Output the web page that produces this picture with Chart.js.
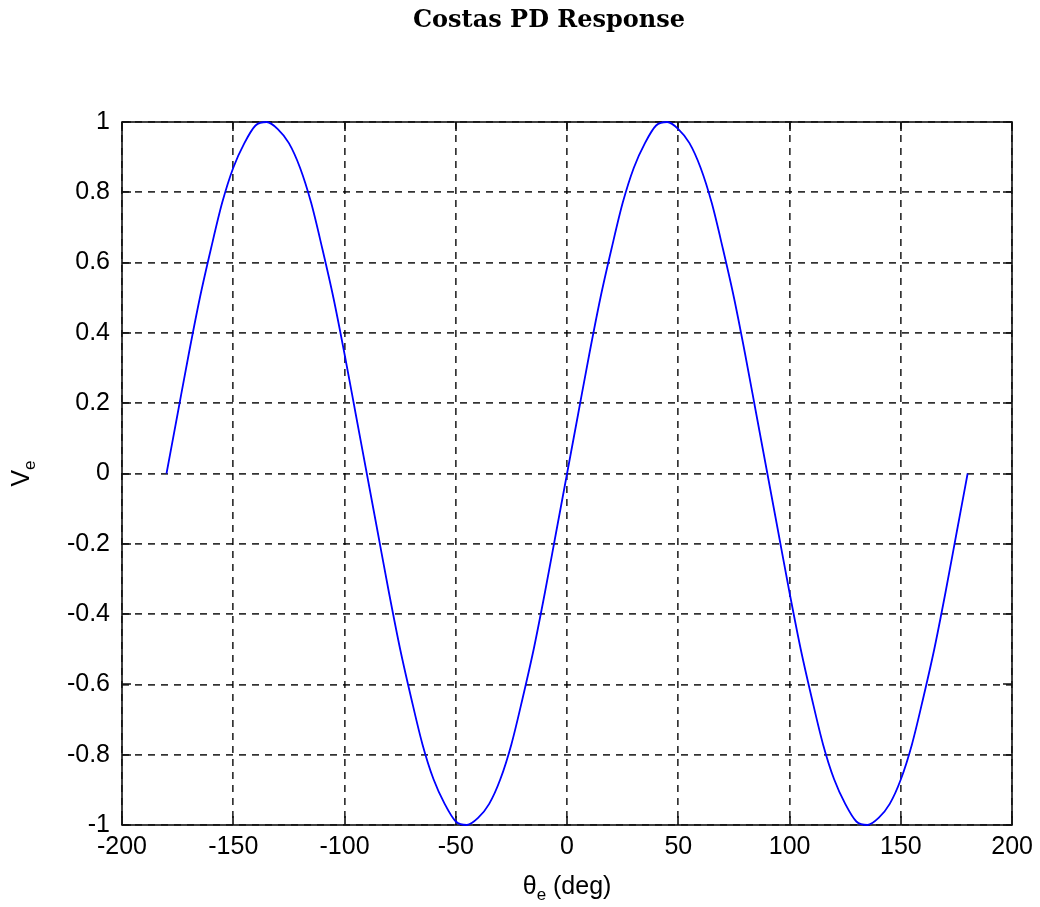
<!DOCTYPE html>
<html><head><meta charset="utf-8">
<script src="https://cdn.jsdelivr.net/npm/chart.js@4/dist/chart.umd.min.js"></script>
<style>html,body{margin:0;padding:0;background:#fff}#wrap{width:1040px;height:907px}</style>
</head><body><div id="wrap"><canvas id="c" width="1040" height="907"></canvas></div>
<script>
const angles = [-180,-175,-170,-165,-160,-155,-150,-145,-140,-135,-130,-125,-120,-115,-110,-105,-100,-95,
  -90,-85,-80,-75,-70,-65,-60,-55,-50,-45,-40,-35,-30,-25,-20,-15,-10,-5,
  0,5,10,15,20,25,30,35,40,45,50,55,60,65,70,75,80,85,
  90,95,100,105,110,115,120,125,130,135,140,145,150,155,160,165,170,175,180];
const ve = [0.00,0.17,0.34,0.50,0.64,0.77,0.87,0.94,0.99,1.00,0.98,0.94,0.87,0.77,0.64,0.50,0.34,0.17,
  0.00,-0.17,-0.34,-0.50,-0.64,-0.77,-0.87,-0.94,-0.99,-1.00,-0.98,-0.94,-0.87,-0.77,-0.64,-0.50,-0.34,-0.17,
  0.00,0.17,0.34,0.50,0.64,0.77,0.87,0.94,0.99,1.00,0.98,0.94,0.87,0.77,0.64,0.50,0.34,0.17,
  0.00,-0.17,-0.34,-0.50,-0.64,-0.77,-0.87,-0.94,-0.99,-1.00,-0.98,-0.94,-0.87,-0.77,-0.64,-0.50,-0.34,-0.17,0.00];
const xTickValues = [-200,-150,-100,-50,0,50,100,150,200];
const yTickValues = [-1,-0.8,-0.6,-0.4,-0.2,0,0.2,0.4,0.6,0.8,1];
const titleText = 'Costas PD Response';
const xLabelMain = 'θ', xLabelSub = 'e', xLabelRest = ' (deg)';
const yLabelMain = 'V', yLabelSub = 'e';

const tickFont = {family: "'Liberation Sans', Arial, sans-serif", size: 25};
const labelFontStr = "25px 'Liberation Sans', Arial, sans-serif";
const subFontStr = "17px 'Liberation Sans', Arial, sans-serif";

const frame = {
  id: 'frame',
  beforeDatasetsDraw(chart) {
    const {ctx, chartArea: a, scales: {x, y}} = chart;
    ctx.save();
    ctx.strokeStyle = '#111';
    ctx.lineWidth = 1.6;
    ctx.setLineDash([]);
    const L = Math.round(a.left), R = Math.round(a.right);
    const T = Math.round(a.top), B = Math.round(a.bottom);
    ctx.strokeRect(L, T, R - L, B - T);
    const tl = 9;
    ctx.beginPath();
    xTickValues.forEach(v => {
      const px = Math.round(x.getPixelForValue(v));
      ctx.moveTo(px, B); ctx.lineTo(px, B - tl);
      ctx.moveTo(px, T); ctx.lineTo(px, T + tl);
    });
    yTickValues.forEach(v => {
      const py = Math.round(y.getPixelForValue(v));
      ctx.moveTo(L, py); ctx.lineTo(L + tl, py);
      ctx.moveTo(R, py); ctx.lineTo(R - tl, py);
    });
    ctx.stroke();
    ctx.restore();
  },
  afterDraw(chart) {
    const {ctx, chartArea: a} = chart;
    ctx.save();
    ctx.fillStyle = '#000';
    ctx.font = "bold 24px 'DejaVu Serif', serif";
    ctx.textAlign = 'center';
    ctx.textBaseline = 'middle';
    ctx.fillText(titleText, 549, 21);
    ctx.textAlign = 'left';
    ctx.textBaseline = 'alphabetic';
    ctx.font = labelFontStr;
    const w1 = ctx.measureText(xLabelMain).width;
    const w3 = ctx.measureText(xLabelRest).width;
    ctx.font = subFontStr;
    const w2 = ctx.measureText(xLabelSub).width;
    const total = w1 + w2 + w3;
    const cx = (a.left + a.right) / 2;
    const sx = cx - total / 2;
    const by = 894;
    ctx.font = labelFontStr;
    ctx.fillText(xLabelMain, sx, by);
    ctx.font = subFontStr;
    ctx.fillText(xLabelSub, sx + w1, by + 6);
    ctx.font = labelFontStr;
    ctx.fillText(xLabelRest, sx + w1 + w2, by);
    ctx.translate(29, (a.top + a.bottom) / 2);
    ctx.rotate(-Math.PI / 2);
    ctx.font = labelFontStr;
    const v1 = ctx.measureText(yLabelMain).width;
    ctx.font = subFontStr;
    const v2 = ctx.measureText(yLabelSub).width;
    const st = -(v1 + v2) / 2;
    ctx.font = labelFontStr;
    ctx.fillText(yLabelMain, st, 0);
    ctx.font = subFontStr;
    ctx.fillText(yLabelSub, st + v1, 6);
    ctx.restore();
  }
};

new Chart(document.getElementById('c'), {
  type: 'line',
  data: {
    datasets: [{
      data: angles.map((a, i) => ({x: a, y: ve[i]})),
      borderColor: '#0000ff',
      borderWidth: 1.8,
      pointRadius: 0,
      fill: false,
      cubicInterpolationMode: 'monotone',
      clip: 4
    }]
  },
  options: {
    responsive: false,
    animation: false,
    devicePixelRatio: 1,
    layout: {padding: {top: 122, left: 0, right: 26, bottom: 0}},
    plugins: {legend: {display: false}, title: {display: false}, tooltip: {enabled: false}},
    scales: {
      x: {
        type: 'linear', min: -200, max: 200,
        afterBuildTicks: s => { s.ticks = xTickValues.map(v => ({value: v})); },
        afterFit: s => { s.height = 82; },
        ticks: {color: '#000', font: tickFont, padding: 7, maxRotation: 0, autoSkip: false},
        grid: {color: 'rgba(0,0,0,0.8)', lineWidth: 1.7, drawTicks: false},
        border: {display: false, dash: [7, 6]}
      },
      y: {
        type: 'linear', min: -1, max: 1,
        afterBuildTicks: s => { s.ticks = yTickValues.map(v => ({value: v})); },
        afterFit: s => { s.width = 122; },
        ticks: {color: '#000', font: tickFont, padding: 12, autoSkip: false,
          callback: v => String(Number(Number(v).toFixed(1)))},
        grid: {color: 'rgba(0,0,0,0.8)', lineWidth: 1.7, drawTicks: false},
        border: {display: false, dash: [7, 6]}
      }
    }
  },
  plugins: [frame]
});
</script>
</body></html>
